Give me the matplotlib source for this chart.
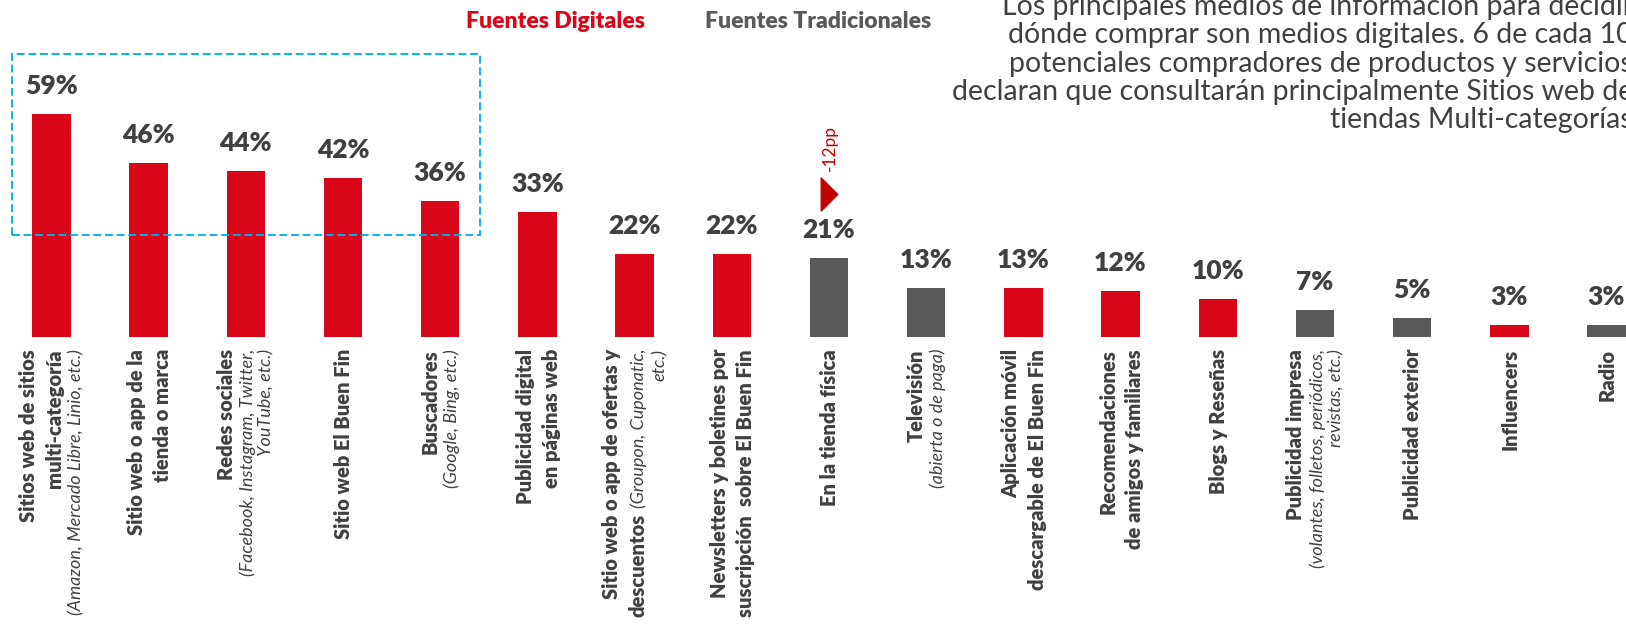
import numpy as np
import matplotlib
matplotlib.use("Agg")
import matplotlib.pyplot as plt
from matplotlib.patches import Rectangle
from matplotlib.path import Path
from matplotlib.transforms import offset_copy

# ---------------- data ----------------
label_main = [
    ["Sitios web de sitios", "multi-categoría"],
    ["Sitio web o app de la", "tienda o marca"],
    ["Redes sociales"],
    ["Sitio web El Buen Fin"],
    ["Buscadores"],
    ["Publicidad digital", "en páginas web"],
    ["Sitio web o app de ofertas y", "descuentos"],
    ["Newsletters y boletines por", "suscripción  sobre El Buen Fin"],
    ["En la tienda física"],
    ["Televisión"],
    ["Aplicación móvil", "descargable de El Buen Fin"],
    ["Recomendaciones", "de amigos y familiares"],
    ["Blogs y Reseñas"],
    ["Publicidad impresa"],
    ["Publicidad exterior"],
    ["Influencers"],
    ["Radio"],
]
label_detail = [
    ["(Amazon, Mercado Libre, Linio, etc.)"],
    [],
    ["(Facebook, Instagram, Twitter,", "YouTube, etc.)"],
    [],
    ["(Google, Bing, etc.)"],
    [],
    ["(Groupon, Cuponatic,", "etc.)"],
    [],
    [],
    ["(abierta o de paga)"],
    [],
    [],
    [],
    ["(volantes, folletos, periódicos,", "revistas, etc.)"],
    [],
    [],
    [],
]
detail_inline = [False, False, False, False, False, False, True, False, False,
                 False, False, False, False, False, False, False, False]
values = [59, 46, 44, 42, 36, 33, 22, 22, 21, 13, 13, 12, 10, 7, 5, 3, 3]
source_type = ["Digital", "Digital", "Digital", "Digital", "Digital", "Digital",
               "Digital", "Digital", "Tradicional", "Tradicional", "Digital",
               "Digital", "Digital", "Tradicional", "Tradicional", "Digital",
               "Tradicional"]
legend_labels = ["Fuentes Digitales", "Fuentes Tradicionales"]
change_index = 8
change_label = "-12pp"
note_lines = [
    "Los principales medios de información para decidir",
    "dónde comprar son medios digitales. 6 de cada 10",
    "potenciales compradores de productos y servicios",
    "declaran que consultarán principalmente Sitios web de",
    "tiendas Multi-categorías",
]

# ---------------- style ----------------
RED = "#D90518"
GRAY = "#595959"
TXT = "#404040"
DARKRED = "#C00000"
BLUE = "#00B0F0"
FONT = "Lato"

W, H = 1626, 635
fig = plt.figure(figsize=(W / 100, H / 100), dpi=100)
ax = fig.add_axes([0, 0, 1, 1])
ax.set_axis_off()

pitch = 97.2      # px between bars
x0 = 51.3         # px centre of first bar
base = 336.7      # px from top to baseline
ppu = 3.77        # px per percentage point
ax.set_xlim(-x0 / pitch, (W - x0) / pitch)
ax.set_ylim(-(H - base) / ppu, base / ppu)

x = np.arange(len(values))
colors = [RED if t == "Digital" else GRAY for t in source_type]
ax.bar(x, values, width=38.4 / pitch, color=colors)

for xi, v in zip(x, values):
    ax.annotate(f"{v}%", (xi, v), xytext=(0, 20), textcoords="offset pixels",
                ha="center", va="baseline", fontsize=19, fontweight="heavy",
                color=TXT, family=FONT)

# category labels (rotated)
renderer = fig.canvas.get_renderer()
BOLD_PT, ITAL_PT = 14.5, 13
BOLD_PX, ITAL_PX = BOLD_PT / 0.72, ITAL_PT / 0.72
GAP = {("b", "b"): 26, ("b", "i"): 21, ("i", "i"): 18.5, ("i", "b"): 21}
style = {
    "b": dict(fontsize=BOLD_PT, fontweight="heavy", color=TXT, family=FONT),
    "i": dict(fontsize=ITAL_PT, fontstyle="italic", fontweight="normal",
              color=TXT, family=FONT),
}
TOP = -12.3
for i in range(len(values)):
    lines = [[(t, "b")] for t in label_main[i]]
    det = list(label_detail[i])
    if detail_inline[i] and det:
        lines[-1].append((det.pop(0), "i"))
    lines += [[(t, "i")] for t in det]
    kinds = ["b" if any(k == "b" for _, k in ln) else "i" for ln in lines]
    centers = [0.0]
    for a, b in zip(kinds[:-1], kinds[1:]):
        centers.append(centers[-1] + GAP[(a, b)])
    mid = (centers[0] + centers[-1]) / 2
    for ln, kind, c in zip(lines, kinds, centers):
        fs_px = BOLD_PX if kind == "b" else ITAL_PX
        dx = c - mid + 0.36 * fs_px
        y_off = TOP
        for j, (text, k) in enumerate(reversed(ln)):
            t = ax.annotate(text, (i, 0), xytext=(dx, y_off),
                            textcoords="offset pixels", rotation=90,
                            rotation_mode="anchor", ha="right", va="baseline",
                            **style[k])
            ext = t.get_window_extent(renderer)
            y_off -= ext.height + 0.28 * BOLD_PX

# highlight box around the top five
ax.add_patch(Rectangle((-0.4, 27.05), 4.81, 47.95, fill=False, ec=BLUE,
                       lw=1.35, ls=(0, (4.2, 2.0)), clip_on=False))

# change marker
tri = Path([(-0.5, -1), (0.5, 0), (-0.5, 1), (-0.5, -1)],
           [Path.MOVETO, Path.LINETO, Path.LINETO, Path.CLOSEPOLY])
trans = offset_copy(ax.transData, fig=fig, x=0, y=63.5, units="dots")
ax.plot([change_index], [values[change_index]], marker=tri, ms=33 * 0.72,
        color=DARKRED, ls="none", transform=trans)
ax.annotate(change_label, (change_index, values[change_index]),
            xytext=(1, 109.5), textcoords="offset pixels", rotation=90,
            rotation_mode="anchor", ha="center", va="center", fontsize=12.5,
            color=DARKRED, family=FONT)

# legend
fig.text(556 / W, 1 - 21 / H, legend_labels[0], ha="center", va="center",
         fontsize=16.5, fontweight="heavy", color=RED, family=FONT)
fig.text(818 / W, 1 - 21 / H, legend_labels[1], ha="center", va="center",
         fontsize=16.5, fontweight="heavy", color=GRAY, family=FONT)

# note text (right-aligned, cut by the figure edge)
for k, line in enumerate(note_lines):
    fig.text(1633 / W, 1 - (15 + 28.3 * k) / H, line, ha="right",
             va="baseline", fontsize=20.5, color=TXT, family=FONT)

fig.savefig("out.png", dpi=100)
